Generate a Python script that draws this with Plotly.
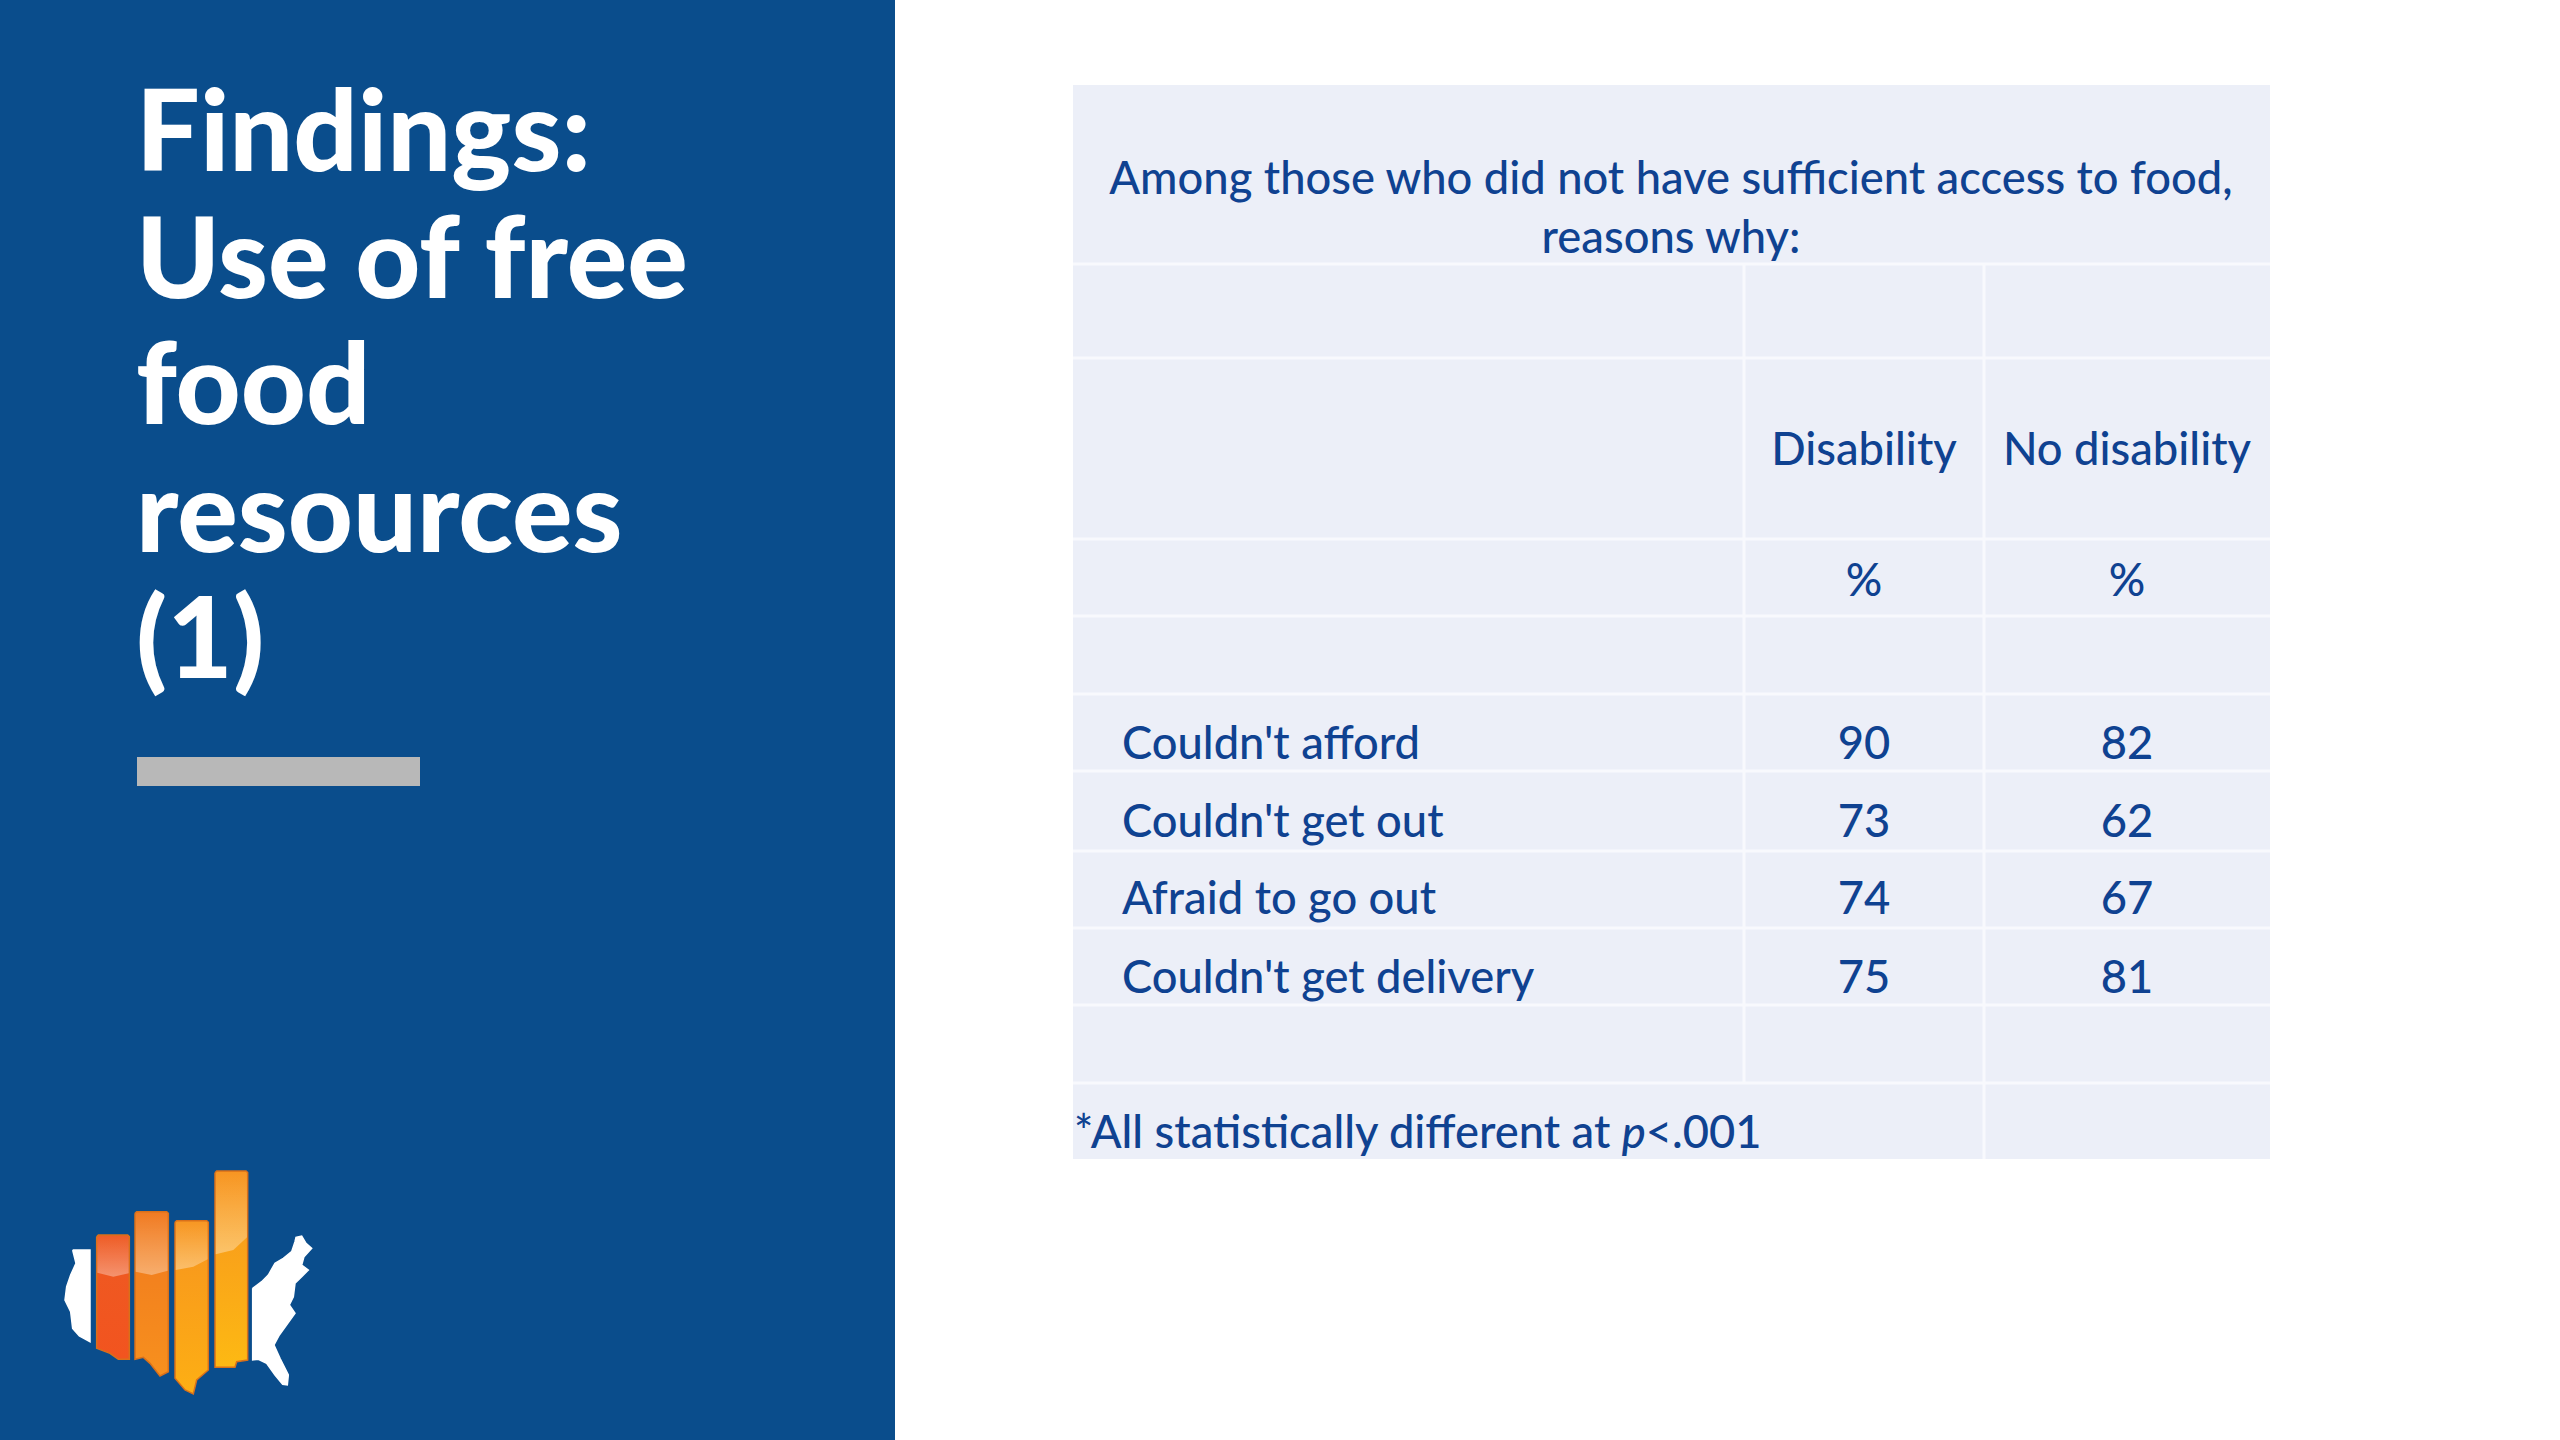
import plotly.graph_objects as go

# table contents
heading_lines = ["Among those who did not have sufficient access to food,", "reasons why:"]
col_headers = ["Disability", "No disability"]
unit_labels = ["%", "%"]
reasons = ["Couldn't afford", "Couldn't get out", "Afraid to go out", "Couldn't get delivery"]
disability = [90, 73, 74, 75]
no_disability = [82, 62, 67, 81]
footnote = "*All statistically different at <i>p</i>&lt;.001"
title_lines = ["Findings:", "Use of free", "food", "resources", "(1)"]

# colours
PANEL = "#0A4D8C"
TABLE_BG = "#ECEFF8"
GRID = "#F8F9FD"
INK = "#0F4291"
FONT = "Lato"
TEXT_SIZE = 45.3

# page layout, pixels
TABLE_X = [1073, 1744, 1984, 2270]
TABLE_Y = [85, 264, 358, 539, 616, 694, 771, 851, 928, 1005, 1083, 1159]
CAT_X = 1122
DIS_X = 1864
NODIS_X = 2127
REASON_Y = [748, 826, 903, 982]

fig = go.Figure()

shapes = [
    dict(type="rect", x0=0, x1=895, y0=0, y1=1440, fillcolor=PANEL, line_width=0, layer="below"),
    dict(type="rect", x0=137, x1=420, y0=757, y1=786, fillcolor="#B8B8B8", line_width=0, layer="below"),
    dict(type="rect", x0=TABLE_X[0], x1=TABLE_X[3], y0=TABLE_Y[0], y1=TABLE_Y[-1],
         fillcolor=TABLE_BG, line_width=0, layer="below"),
]
for y in TABLE_Y[1:-1]:
    shapes.append(dict(type="line", x0=TABLE_X[0], x1=TABLE_X[3], y0=y, y1=y,
                       line=dict(color=GRID, width=3), layer="below"))
shapes.append(dict(type="line", x0=TABLE_X[1], x1=TABLE_X[1], y0=TABLE_Y[1], y1=TABLE_Y[10],
                   line=dict(color=GRID, width=3), layer="below"))
shapes.append(dict(type="line", x0=TABLE_X[2], x1=TABLE_X[2], y0=TABLE_Y[1], y1=TABLE_Y[11],
                   line=dict(color=GRID, width=3), layer="below"))


def add_text(xs, ys, labels, size, color=INK, pos="middle center", weight=500):
    fig.add_trace(go.Scatter(x=xs, y=ys, text=labels, mode="text", textposition=pos,
                             textfont=dict(family=FONT, size=size, color=color, weight=weight),
                             hoverinfo="skip", showlegend=False))


# logo pieces (3x crop coords at offset 0,1100)
def logo_xy(points):
    xs = [p[0] / 3 for p in points]
    ys = [1100 + p[1] / 3 for p in points]
    return xs, ys


def add_logo_piece(points, fill=None, grad=None, line=None):
    xs, ys = logo_xy(points + points[:1])
    kw = dict(fillcolor=fill) if fill else dict(fillgradient=dict(type="vertical", colorscale=grad))
    fig.add_trace(go.Scatter(x=xs, y=ys, mode="lines", fill="toself",
                             line=dict(color=line or "rgba(0,0,0,0)", width=1.5),
                             hoverinfo="skip", showlegend=False, **kw))


west = [(218, 450), (270, 450), (270, 725), (238, 708), (218, 685), (212, 635), (195, 600), (200, 560),
        (212, 525), (228, 490)]
east = [(758, 565), (785, 545), (805, 525), (825, 490), (850, 475), (875, 455), (885, 425), (888, 412),
        (905, 408), (918, 430), (935, 445), (912, 470), (905, 495), (925, 510), (905, 530), (885, 550),
        (880, 590), (868, 615), (885, 640), (860, 675), (838, 705), (822, 735), (840, 775), (865, 825),
        (862, 855), (848, 853), (825, 825), (800, 790), (775, 778), (758, 780)]
add_logo_piece(west, fill="#FFFFFF", line="#FFFFFF")
add_logo_piece(east, fill="#FFFFFF", line="#FFFFFF")

bars = [
    ([(290, 410), (295, 405), (383, 405), (388, 410), (388, 778), (355, 778), (330, 760), (305, 752), (290, 745)],
     "#F2541F", "#EE5A22"),
    ([(405, 340), (410, 335), (500, 335), (505, 340), (505, 815), (480, 828), (450, 790), (430, 772), (405, 778)],
     "#F7901E", "#F0781E"),
    ([(525, 367), (530, 362), (620, 362), (625, 367), (625, 810), (590, 840), (580, 882), (555, 870), (525, 835)],
     "#FDAF14", "#F7941E"),
    ([(645, 218), (650, 213), (738, 213), (743, 218), (743, 780), (710, 785), (705, 802), (645, 802)],
     "#FDB913", "#F7931E"),
]
for pts, low, high in bars:
    add_logo_piece(pts, grad=[[0, low], [1, high]], line="#D9701A")

gloss = [
    [(292, 407), (386, 407), (386, 520), (340, 530), (292, 518)],
    [(407, 337), (503, 337), (503, 512), (455, 525), (407, 515)],
    [(527, 364), (623, 364), (623, 478), (580, 500), (527, 510)],
    [(647, 215), (741, 215), (741, 412), (700, 450), (647, 463)],
]
for pts in gloss:
    add_logo_piece(pts, grad=[[0, "rgba(255,255,255,0.35)"], [1, "rgba(255,255,255,0.02)"]])

# left panel title
title_y = [143, 270, 396, 524, 650]
add_text([136] * len(title_lines), title_y, title_lines, 113, color="#FFFFFF", pos="middle right", weight=900)

# table text
add_text([1671, 1671], [183, 242], heading_lines, TEXT_SIZE)
add_text([DIS_X, NODIS_X], [454, 454], col_headers, TEXT_SIZE)
add_text([DIS_X, NODIS_X], [585, 585], unit_labels, TEXT_SIZE)
add_text([CAT_X] * len(reasons), REASON_Y, reasons, TEXT_SIZE, pos="middle right")
add_text([DIS_X] * len(disability), REASON_Y, [str(v) for v in disability], TEXT_SIZE)
add_text([NODIS_X] * len(no_disability), REASON_Y, [str(v) for v in no_disability], TEXT_SIZE)
add_text([1074], [1137], [footnote], TEXT_SIZE, pos="middle right")

fig.update_layout(
    width=2560, height=1440,
    margin=dict(l=0, r=0, t=0, b=0),
    paper_bgcolor="#FFFFFF", plot_bgcolor="#FFFFFF",
    xaxis=dict(range=[0, 2560], visible=False, fixedrange=True),
    yaxis=dict(range=[1440, 0], visible=False, fixedrange=True),
    shapes=shapes,
    showlegend=False,
)

fig.write_html("out.html", post_script="document.body.style.margin='0';",
               config=dict(displayModeBar=False))
